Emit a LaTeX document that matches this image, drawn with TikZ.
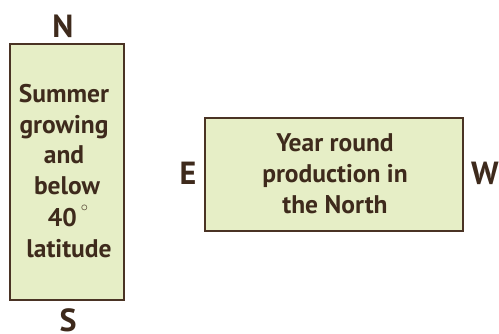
\documentclass[tikz,border=0pt]{standalone}
\usepackage{fontspec}
\setmainfont{PT Sans}
\definecolor{boxfill}{HTML}{E6EEC6}
\definecolor{boxline}{HTML}{4A3324}
\definecolor{txt}{HTML}{3E2A1C}
\begin{document}
\begin{tikzpicture}[x=1pt,y=-1pt,
  panel/.style={draw=boxline,fill=boxfill,line width=2pt},
  body/.style={text=txt,font=\fontsize{25.5}{31}\selectfont\bfseries,anchor=base,inner sep=0pt},
  compass/.style={text=txt,font=\fontsize{32}{32}\selectfont\bfseries,anchor=base,inner sep=0pt}]
\useasboundingbox (0,0) rectangle (499,333);
\draw[panel] (10,44) rectangle (124,300);
\draw[panel] (205,118) rectangle (463,231);
\node[body] (l1) at (64,102) {Summer};
\node[body] (l2) at (64,133) {growing};
\node[body] (l3) at (64,163) {and};
\node[body] (l4) at (67,194) {below};
\node[body] (l5) at (68,226) {40\,\raisebox{0.55em}[0pt][0pt]{\fontsize{14}{14}\selectfont$\circ$}};
\node[body] (l6) at (69,257) {latitude};
\node[body] (r1) at (335,151) {Year round};
\node[body] (r2) at (335,182) {production in};
\node[body] (r3) at (335,213) {the North};
\node[compass] (N) at (63,37) {N};
\node[compass] (S) at (68,331) {S};
\node[compass] (E) at (188,184) {E};
\node[compass] (W) at (485,184) {W};
\end{tikzpicture}
\end{document}
